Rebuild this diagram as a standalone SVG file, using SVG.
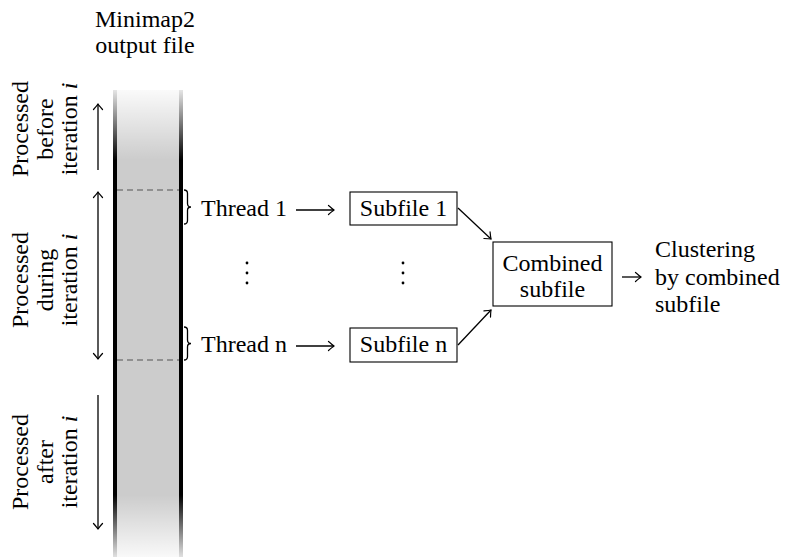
<svg xmlns="http://www.w3.org/2000/svg" width="787" height="557" viewBox="0 0 787 557">
<style>
text{font-family:"Liberation Serif","Times New Roman",serif;font-size:24px;fill:#000}
.c{text-anchor:middle}
.box{fill:#fff;stroke:#000;stroke-width:1.1}
.ln{fill:none;stroke:#000;stroke-width:1.3}
.dash{stroke:#555;stroke-width:1.2;stroke-dasharray:6 4;fill:none}
.edge{fill:#000}
</style>
<defs>
<marker id="ah" viewBox="-7 -6 8 12" markerWidth="8" markerHeight="12" refX="0" refY="0" orient="auto-start-reverse" markerUnits="userSpaceOnUse">
<path d="M-5.5,-4.5 Q-1.5,-1 0,0 Q-1.5,1 -5.5,4.5" fill="none" stroke="#000" stroke-width="1.2" stroke-linecap="round"/>
</marker>
<linearGradient id="fadeTop" x1="0" y1="0" x2="0" y2="1">
<stop offset="0" stop-color="#fff" stop-opacity="0.9"/>
<stop offset="1" stop-color="#fff" stop-opacity="0"/>
</linearGradient>
<linearGradient id="fadeBot" x1="0" y1="0" x2="0" y2="1">
<stop offset="0" stop-color="#fff" stop-opacity="0"/>
<stop offset="1" stop-color="#fff" stop-opacity="0.88"/>
</linearGradient>
</defs>

<g id="file">
<rect x="117" y="90" width="62" height="467" fill="#cccccc"/>
<rect class="edge" x="113" y="90" width="4" height="467"/>
<rect class="edge" x="179" y="90" width="4" height="467"/>
<rect x="112" y="90" width="72" height="70" fill="url(#fadeTop)"/>
<rect x="112" y="495" width="72" height="62" fill="url(#fadeBot)"/>
<line class="dash" x1="117" y1="190" x2="179" y2="190"/>
<line class="dash" x1="117" y1="360" x2="179" y2="360"/>
<text class="c" x="145" y="27">Minimap2</text>
<text class="c" x="145" y="53">output file</text>
</g>

<g id="label-before" transform="translate(28,129) rotate(-90)">
<text class="c" x="0" y="0">Processed</text>
<text class="c" x="0" y="25">before</text>
<text class="c" x="0" y="49">iteration <tspan font-style="italic">i</tspan></text>
</g>
<g id="label-during" transform="translate(28,280) rotate(-90)">
<text class="c" x="0" y="0">Processed</text>
<text class="c" x="0" y="25">during</text>
<text class="c" x="0" y="49">iteration <tspan font-style="italic">i</tspan></text>
</g>
<g id="label-after" transform="translate(28,462) rotate(-90)">
<text class="c" x="0" y="0">Processed</text>
<text class="c" x="0" y="25">after</text>
<text class="c" x="0" y="49">iteration <tspan font-style="italic">i</tspan></text>
</g>

<g id="thread1">
<path class="ln" d="M184,190 Q187.5,190 187.5,193.5 L187.5,203.5 Q187.5,207 191,207 Q187.5,207 187.5,210.5 L187.5,220.5 Q187.5,224 184,224"/>
<text x="201" y="216">Thread 1</text>
</g>
<g id="threadn">
<path class="ln" d="M184,327 Q187.5,327 187.5,330.5 L187.5,340 Q187.5,343.5 191,343.5 Q187.5,343.5 187.5,347 L187.5,356.5 Q187.5,360 184,360"/>
<text x="201" y="352">Thread n</text>
</g>
<g id="dots-threads" fill="#000">
<circle cx="247" cy="263" r="1.4"/>
<circle cx="247" cy="273" r="1.4"/>
<circle cx="247" cy="283" r="1.4"/>
</g>
<g id="subfile1">
<rect class="box" x="350" y="192" width="107" height="33"/>
<text class="c" x="403.5" y="216">Subfile 1</text>
</g>
<g id="subfilen">
<rect class="box" x="350" y="328" width="107" height="34"/>
<text class="c" x="403.5" y="352">Subfile n</text>
</g>
<g id="dots-subfiles" fill="#000">
<circle cx="403" cy="263" r="1.4"/>
<circle cx="403" cy="273" r="1.4"/>
<circle cx="403" cy="283" r="1.4"/>
</g>
<g id="combined">
<rect class="box" x="493" y="242" width="119" height="64"/>
<text class="c" x="552.5" y="271">Combined</text>
<text class="c" x="552.5" y="297">subfile</text>
</g>
<g id="clustering">
<text x="655" y="257">Clustering</text>
<text x="655" y="285">by combined</text>
<text x="655" y="312">subfile</text>
</g>

<g id="connectors" class="ln" marker-end="url(#ah)">
<line x1="98" y1="170" x2="98" y2="104"/>
<line x1="98" y1="192" x2="98" y2="359" marker-start="url(#ah)"/>
<line x1="98" y1="395" x2="98" y2="529"/>
<line x1="296" y1="210" x2="334" y2="210"/>
<line x1="296" y1="346" x2="334" y2="346"/>
<line x1="458" y1="208" x2="491" y2="239"/>
<line x1="458" y1="345" x2="491" y2="310"/>
<line x1="622" y1="277" x2="641" y2="277"/>
</g>
</svg>
